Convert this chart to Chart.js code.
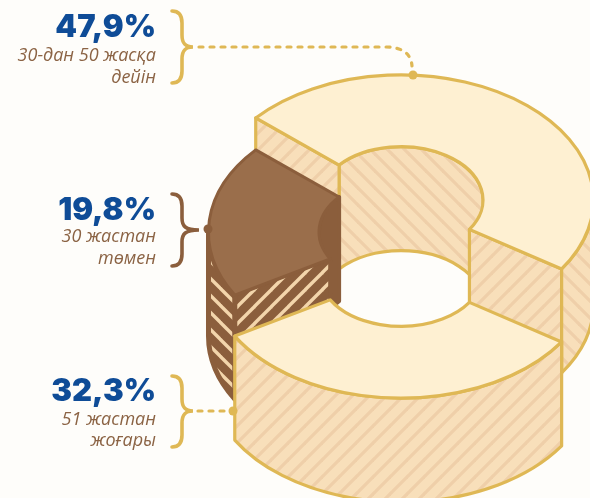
<!DOCTYPE html>
<html>
<head>
<meta charset="utf-8">
<script src="https://cdn.jsdelivr.net/npm/chart.js@4"></script>
<style>
  html, body { margin: 0; padding: 0; background: #fefdfa; overflow: hidden; }
  canvas { display: block; }
</style>
</head>
<body>
<!-- a bit wider than the window: the ring runs off the right edge -->
<canvas id="myChart" width="600" height="498"></canvas>
<script>
// Data, clockwise round the ring
const percentLabels = ["47,9%", "32,3%", "19,8%"];
const subLabels = [["30-дан 50 жасқа", "дейін"], ["51 жастан", "жоғары"], ["30 жастан", "төмен"]];
const values = [47.9, 32.3, 19.8];

// Colours
const FACE = "#fef0d2";
const GOLD = "#dfb855";
const WALL = "#f8dfba";
const WALL_STRIPE = "#efcfa9";
const BROWN = "#9a6e4b";
const DARK = "#8b5e3c";
const DARK_STRIPE = "#f3d5ab";
const BLUE = "#0f4c97";
const TEXT_BROWN = "#8b6344";

// Each slice sits at its own height in the picture
const faceY = [200, 273, 232];
const paintOrder = [0, 2, 1];
const wallHeight = 104;
const squash = 0.65;

// Diagonal stripe tile. dir = 1 is "/", dir = -1 is "\"
function stripes(base, line, dir, size, width) {
  const c = document.createElement("canvas");
  c.width = c.height = size;
  const g = c.getContext("2d");
  g.fillStyle = base;
  g.fillRect(0, 0, size, size);
  g.strokeStyle = line;
  g.lineWidth = width;
  for (let k = -1; k <= 1; k++) {
    g.beginPath();
    if (dir > 0) {
      g.moveTo(k * size - 1, size + 1);
      g.lineTo(k * size + size + 1, -1);
    } else {
      g.moveTo(k * size - 1, -1);
      g.lineTo(k * size + size + 1, size + 1);
    }
    g.stroke();
  }
  return c;
}

// parts of [start, end] inside [lo, hi], modulo a full turn
function overlap(start, end, lo, hi) {
  const out = [];
  for (let k = -2; k <= 2; k++) {
    const a = Math.max(start, lo + k * 2 * Math.PI);
    const b = Math.min(end, hi + k * 2 * Math.PI);
    if (b > a) out.push([a, b]);
  }
  return out;
}

function curvedWall(ctx, x, y, rx, ry, a, b) {
  ctx.beginPath();
  ctx.ellipse(x, y, rx, ry, 0, a, b);
  ctx.ellipse(x, y + wallHeight, rx, ry, 0, b, a, true);
  ctx.closePath();
}

function cutWall(ctx, x, y, r0, r1, angle) {
  const c = Math.cos(angle), s = Math.sin(angle) * squash;
  ctx.beginPath();
  ctx.moveTo(x + r0 * c, y + r0 * s);
  ctx.lineTo(x + r1 * c, y + r1 * s);
  ctx.lineTo(x + r1 * c, y + r1 * s + wallHeight);
  ctx.lineTo(x + r0 * c, y + r0 * s + wallHeight);
  ctx.closePath();
}

function paint(ctx, fill, stroke, width) {
  ctx.fillStyle = fill;
  ctx.fill();
  ctx.strokeStyle = stroke;
  ctx.lineWidth = width;
  ctx.stroke();
}

const ringPlugin = {
  id: "ring",
  beforeDatasetsDraw(chart) {
    const ctx = chart.ctx;
    const pats = {
      up: ctx.createPattern(stripes(WALL, WALL_STRIPE, 1, 17, 3.2), "repeat"),
      down: ctx.createPattern(stripes(WALL, WALL_STRIPE, -1, 17, 3.2), "repeat"),
      darkUp: ctx.createPattern(stripes(DARK, DARK_STRIPE, 1, 17, 3.4), "repeat"),
      darkDown: ctx.createPattern(stripes(DARK, DARK_STRIPE, -1, 17, 3.4), "repeat")
    };
    const arcs = chart.getDatasetMeta(0).data;
    ctx.save();
    ctx.lineJoin = "round";
    paintOrder.forEach(i => {
      const p = arcs[i].getProps(["x", "startAngle", "endAngle", "innerRadius", "outerRadius"], true);
      const y = faceY[i];
      const isDark = i === 2;
      const line = isDark ? DARK : GOLD;
      const lw = isDark ? 4 : 3.2;
      const R = p.outerRadius, r = p.innerRadius;

      // inside of the hole, far side only
      overlap(p.startAngle, p.endAngle, Math.PI, 2 * Math.PI).forEach(([a, b]) => {
        curvedWall(ctx, p.x, y, r, r * squash, a, b);
        paint(ctx, isDark ? DARK : pats.down, line, lw);
      });
      // cut faces turned to the viewer
      if (Math.sin(p.startAngle - Math.PI / 2) > 0) {
        cutWall(ctx, p.x, y, r, R, p.startAngle);
        paint(ctx, isDark ? pats.darkUp : pats.up, line, lw);
      }
      if (Math.sin(p.endAngle + Math.PI / 2) > 0) {
        cutWall(ctx, p.x, y, r, R, p.endAngle);
        paint(ctx, isDark ? pats.darkUp : pats.up, line, lw);
      }
      // outside, near side only
      overlap(p.startAngle, p.endAngle, 0, Math.PI).forEach(([a, b]) => {
        curvedWall(ctx, p.x, y, R, R * squash, a, b);
        const fill = isDark ? pats.darkDown : (i === 1 ? pats.up : pats.down);
        paint(ctx, fill, line, isDark ? 5 : 3.2);
      });
      // top face
      ctx.beginPath();
      ctx.ellipse(p.x, y, R, R * squash, 0, p.startAngle, p.endAngle);
      ctx.ellipse(p.x, y, r, r * squash, 0, p.endAngle, p.startAngle, true);
      ctx.closePath();
      paint(ctx, isDark ? BROWN : FACE, line, isDark ? 3 : 3.2);
    });
    ctx.restore();
    return false;
  }
};

function brace(ctx, top, mid, bottom, tip, color) {
  ctx.strokeStyle = color;
  ctx.lineWidth = 3.6;
  ctx.lineCap = "round";
  ctx.setLineDash([]);
  ctx.beginPath();
  ctx.moveTo(172, top);
  ctx.bezierCurveTo(179, top, 182, top + 4, 182, top + 12);
  ctx.lineTo(182, mid - 12);
  ctx.bezierCurveTo(182, mid - 4, 185, mid, tip, mid);
  ctx.bezierCurveTo(185, mid, 182, mid + 4, 182, mid + 12);
  ctx.lineTo(182, bottom - 12);
  ctx.bezierCurveTo(182, bottom - 4, 179, bottom, 172, bottom);
  ctx.stroke();
}

function dot(ctx, x, y, color) {
  ctx.fillStyle = color;
  ctx.beginPath();
  ctx.arc(x, y, 4.5, 0, 2 * Math.PI);
  ctx.fill();
}

const labelPlugin = {
  id: "callouts",
  afterDraw(chart) {
    const ctx = chart.ctx;
    ctx.save();
    // braces and leaders
    brace(ctx, 11, 47, 83, 193, GOLD);
    brace(ctx, 194, 230, 266, 199, DARK);
    brace(ctx, 376, 411, 447, 193, GOLD);

    ctx.strokeStyle = GOLD;
    ctx.lineWidth = 3.2;
    ctx.lineCap = "round";
    ctx.setLineDash([4, 7]);
    ctx.beginPath();
    ctx.moveTo(199, 47);
    ctx.lineTo(385, 47);
    ctx.bezierCurveTo(403, 47, 411, 54, 412, 66);
    ctx.stroke();
    ctx.beginPath();
    ctx.moveTo(198, 411);
    ctx.lineTo(226, 411);
    ctx.stroke();
    ctx.setLineDash([]);
    dot(ctx, 413, 75, GOLD);
    dot(ctx, 208, 229, DARK);
    dot(ctx, 233, 411, GOLD);

    // text
    const baselines = [[37, 61, 83], [401, 425, 446], [220, 242, 264]];
    ctx.textAlign = "right";
    percentLabels.forEach((t, i) => {
      ctx.fillStyle = BLUE;
      ctx.font = "900 31px Inter, Roboto, sans-serif";
      ctx.fillText(t, 156, baselines[i][0]);
      ctx.fillStyle = TEXT_BROWN;
      ctx.font = "italic 18px 'Open Sans', 'Noto Sans', sans-serif";
      subLabels[i].forEach((s, j) => ctx.fillText(s, 156, baselines[i][j + 1]));
    });
    ctx.restore();
  }
};

const config = {
  type: "doughnut",
  data: {
    labels: subLabels.map(l => l.join(" ")),
    datasets: [{ data: values, backgroundColor: [FACE, FACE, BROWN], borderWidth: 0 }]
  },
  options: {
    responsive: false,
    animation: false,
    rotation: 311,
    cutout: "42.6%",
    layout: { padding: { left: 208.5, right: 6.5, top: 0, bottom: 0 } },
    plugins: { legend: { display: false }, tooltip: { enabled: false } }
  },
  plugins: [ringPlugin, labelPlugin]
};

new Chart(document.getElementById("myChart").getContext("2d"), config);
</script>
</body>
</html>
